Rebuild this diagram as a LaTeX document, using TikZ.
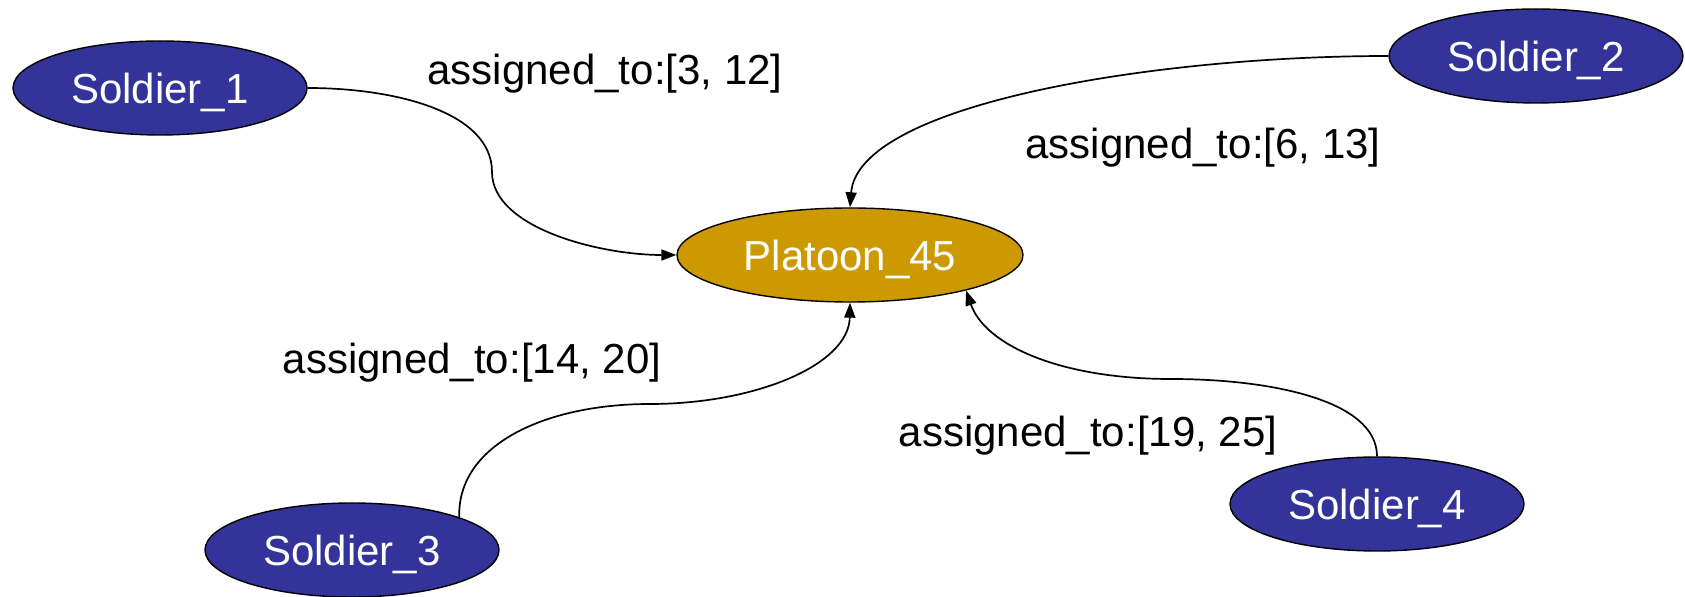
\documentclass[tikz,border=0pt]{standalone}
\usepackage{fontspec}
\setmainfont{Liberation Sans}
\usetikzlibrary{shapes.geometric,arrows.meta}
\definecolor{soldierblue}{HTML}{333399}
\definecolor{platoongold}{HTML}{CC9900}
\begin{document}
\begin{tikzpicture}[x=0.5pt,y=-0.5pt,
  entity/.style={ellipse, draw=black, line width=0.7pt, inner sep=0pt,
    text=white, text depth=0pt, font=\fontsize{21}{25}\selectfont},
  soldier/.style={entity, fill=soldierblue, minimum width=147pt, minimum height=47pt},
  platoon/.style={entity, fill=platoongold, minimum width=173pt, minimum height=47pt},
  link/.style={draw=black, line width=0.85pt, -{Triangle[length=7.5pt,width=5.5pt]}},
  edgelabel/.style={font=\fontsize{21}{25}\selectfont, inner sep=0pt, anchor=base}]
\useasboundingbox (0,0) rectangle (1685,597);

% entities
\node[platoon] (p)  at (850,255)  {Platoon\_45};
\node[soldier] (s1) at (160,88)   {Soldier\_1};
\node[soldier] (s2) at (1536,56)  {Soldier\_2};
\node[soldier] (s3) at (352,550)  {Soldier\_3};
\node[soldier] (s4) at (1377,504) {Soldier\_4};

% turning points of the spline edges
\coordinate (m1) at (492,172);
\coordinate (m3) at (650,404);
\coordinate (m4) at (1171,379);

% assignments
\draw[link] (s1.east) .. controls (395,88) and (492,112) .. (m1)
                      .. controls (492,228) and (600,255) .. (p.west);
\draw[link] (s2.west) .. controls (1150,56) and (858,105) .. (p.north);
\draw[link] (s3.17) .. controls (457,445) and (545,404) .. (m3)
                    .. controls (755,404) and (849,365) .. (p.south);
\draw[link] (s4.north) .. controls (1377,400) and (1270,379) .. (m4)
                       .. controls (1060,379) and (985,345) .. (p.-17);

% edge labels
\node[edgelabel] (l1) at (605,85)  {assigned\_to:[3, 12]};
\node[edgelabel] (l2) at (1203,159) {assigned\_to:[6, 13]};
\node[edgelabel] (l3) at (472,374) {assigned\_to:[14, 20]};
\node[edgelabel] (l4) at (1088,447) {assigned\_to:[19, 25]};
\end{tikzpicture}
\end{document}
